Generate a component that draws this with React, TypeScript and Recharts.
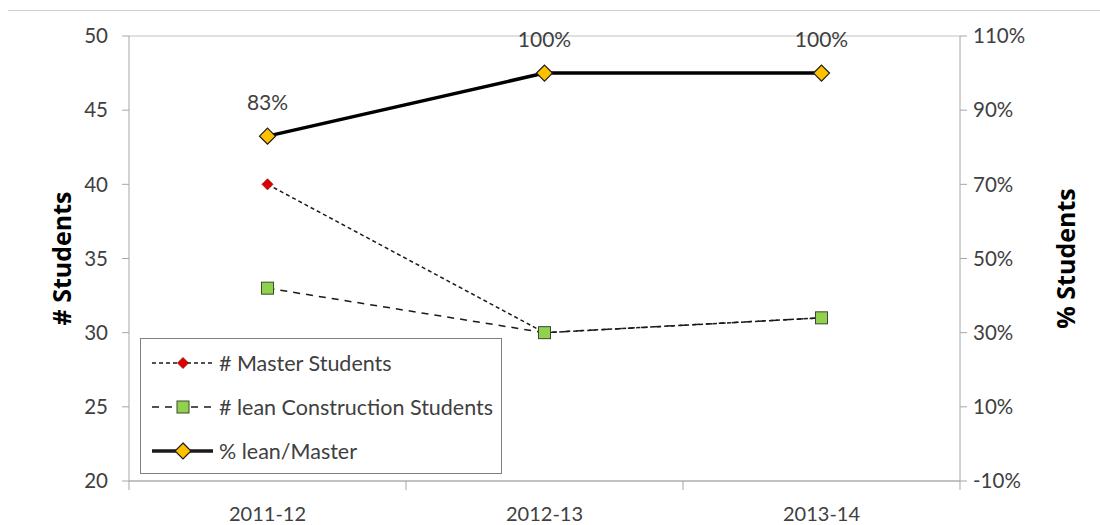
import React from "react";
import {
  LineChart,
  Line,
  XAxis,
  YAxis,
  CartesianGrid,
  LabelList,
} from "recharts";

const years = ["2011-12", "2012-13", "2013-14"];
const masterStudents = [40, 30, 31];
const leanStudents = [33, 30, 31];
const leanShare = [83, 100, 100];

const countTicks = [20, 25, 30, 35, 40, 45, 50];
const shareTicks = [-10, 10, 30, 50, 70, 90, 110];

const data = years.map((year, i) => ({
  year,
  master: masterStudents[i],
  lean: leanStudents[i],
  share: leanShare[i],
}));

const W = 1100;
const H = 525;
const LEFT_W = 129;
const RIGHT_W = 140;
const BAND = (W - LEFT_W - RIGHT_W) / years.length;

const FONT = "Lato, 'Open Sans', sans-serif";
const TITLE_FONT = "'Open Sans', Lato, sans-serif";
const TEXT = "#404040";
const GRID = "#c0c0c0";
const AXIS = "#a6a6a6";

const RedDiamond = (props: any) => {
  const { cx, cy } = props;
  if (cx == null || cy == null) return null;
  const r = 5.5;
  return (
    <path
      d={`M${cx},${cy - r}L${cx + r},${cy}L${cx},${cy + r}L${cx - r},${cy}Z`}
      fill="#e00000"
      stroke="#7a1010"
      strokeWidth={0.8}
    />
  );
};

const GreenSquare = (props: any) => {
  const { cx, cy } = props;
  if (cx == null || cy == null) return null;
  const s = 6;
  return (
    <rect x={cx - s} y={cy - s} width={s * 2} height={s * 2} fill="#92d050" stroke="#3a4a2a" strokeWidth={1} />
  );
};

const GoldDiamond = (props: any) => {
  const { cx, cy } = props;
  if (cx == null || cy == null) return null;
  const r = 8;
  return (
    <path
      d={`M${cx},${cy - r}L${cx + r},${cy}L${cx},${cy + r}L${cx - r},${cy}Z`}
      fill="#ffc000"
      stroke="#1a1a1a"
      strokeWidth={1.2}
    />
  );
};

// category labels sit in band centres; tick marks go on band edges
const YearTick = (props: any) => {
  const { x, y, payload, index } = props;
  const left = x - BAND / 2;
  const right = x + BAND / 2;
  return (
    <g>
      <line x1={left} y1={y - 8} x2={left} y2={y + 1} stroke={AXIS} />
      {index === years.length - 1 && <line x1={right} y1={y - 8} x2={right} y2={y + 1} stroke={AXIS} />}
      <text x={x} y={y + 32} textAnchor="middle" fill={TEXT} fontSize={20} fontFamily={FONT}>
        {payload.value}
      </text>
    </g>
  );
};

const legendItems = [
  { label: "# Master Students", dash: "4 3", width: 1.5, Marker: RedDiamond },
  { label: "# lean Construction Students", dash: "7 6", width: 1.5, Marker: GreenSquare },
  { label: "% lean/Master", dash: undefined, width: 3.5, Marker: GoldDiamond },
];

const LegendBox = () => (
  <div
    style={{
      position: "absolute",
      left: 140,
      top: 338,
      width: 362,
      height: 136,
      border: "1.5px solid #7f7f7f",
      background: "#fff",
      boxSizing: "border-box",
    }}
  >
    {legendItems.map(({ label, dash, width, Marker }, i) => (
      <div key={label} style={{ display: "flex", alignItems: "center", height: 44, marginTop: i === 0 ? 2 : 0 }}>
        <svg width={78} height={24} style={{ flex: "none" }}>
          <line x1={11} y1={12} x2={72} y2={12} stroke="#1a1a1a" strokeWidth={width} strokeDasharray={dash} />
          <Marker cx={42} cy={12} />
        </svg>
        <span style={{ fontFamily: FONT, fontSize: 21.5, color: TEXT, whiteSpace: "nowrap" }}>{label}</span>
      </div>
    ))}
  </div>
);

export default function App() {
  return (
    <div style={{ position: "fixed", left: 0, top: 0, width: W, height: H, background: "#fff" }}>
      <div style={{ position: "absolute", left: 8, right: 0, top: 10, borderTop: "1.5px solid #d0d0d0" }} />
      <LineChart width={W} height={H} data={data} margin={{ top: 36, right: 0, bottom: 0, left: 0 }}>
        <CartesianGrid vertical={false} stroke={GRID} />
        <XAxis
          dataKey="year"
          height={44}
          padding={{ left: BAND / 2, right: BAND / 2 }}
          stroke={AXIS}
          tickLine={false}
          tick={<YearTick />}
        />
        <YAxis
          yAxisId="count"
          width={LEFT_W}
          domain={[20, 50]}
          ticks={countTicks}
          stroke={AXIS}
          tickSize={7}
          tickMargin={14}
          tick={{ fill: TEXT, fontSize: 20.5, fontFamily: FONT }}
          label={{
            value: "# Students",
            angle: -90,
            position: "insideLeft",
            offset: 62,
            style: { fill: "#000", fontSize: 25, fontWeight: 700, fontFamily: TITLE_FONT, textAnchor: "middle" },
          }}
        />
        <YAxis
          yAxisId="share"
          orientation="right"
          width={RIGHT_W}
          domain={[-10, 110]}
          ticks={shareTicks}
          tickFormatter={(v) => `${v}%`}
          stroke={AXIS}
          tickSize={7}
          tickMargin={6}
          tick={{ fill: TEXT, fontSize: 20.5, fontFamily: FONT }}
          label={{
            value: "% Students",
            angle: -90,
            position: "insideRight",
            offset: 34,
            style: { fill: "#000", fontSize: 25, fontWeight: 700, fontFamily: TITLE_FONT, textAnchor: "middle" },
          }}
        />
        <Line
          yAxisId="count"
          dataKey="master"
          name="# Master Students"
          stroke="#1a1a1a"
          strokeWidth={1.5}
          strokeDasharray="4 3"
          dot={<RedDiamond />}
          activeDot={false}
          isAnimationActive={false}
        />
        <Line
          yAxisId="count"
          dataKey="lean"
          name="# lean Construction Students"
          stroke="#1a1a1a"
          strokeWidth={1.5}
          strokeDasharray="7 6"
          dot={<GreenSquare />}
          activeDot={false}
          isAnimationActive={false}
        />
        <Line
          yAxisId="share"
          dataKey="share"
          name="% lean/Master"
          stroke="#000"
          strokeWidth={3.5}
          dot={<GoldDiamond />}
          activeDot={false}
          isAnimationActive={false}
        >
          <LabelList
            dataKey="share"
            position="top"
            offset={26}
            formatter={(v: any) => `${v}%`}
            style={{ fill: TEXT, fontSize: 21, fontFamily: FONT }}
          />
        </Line>
      </LineChart>
      <LegendBox />
    </div>
  );
}
